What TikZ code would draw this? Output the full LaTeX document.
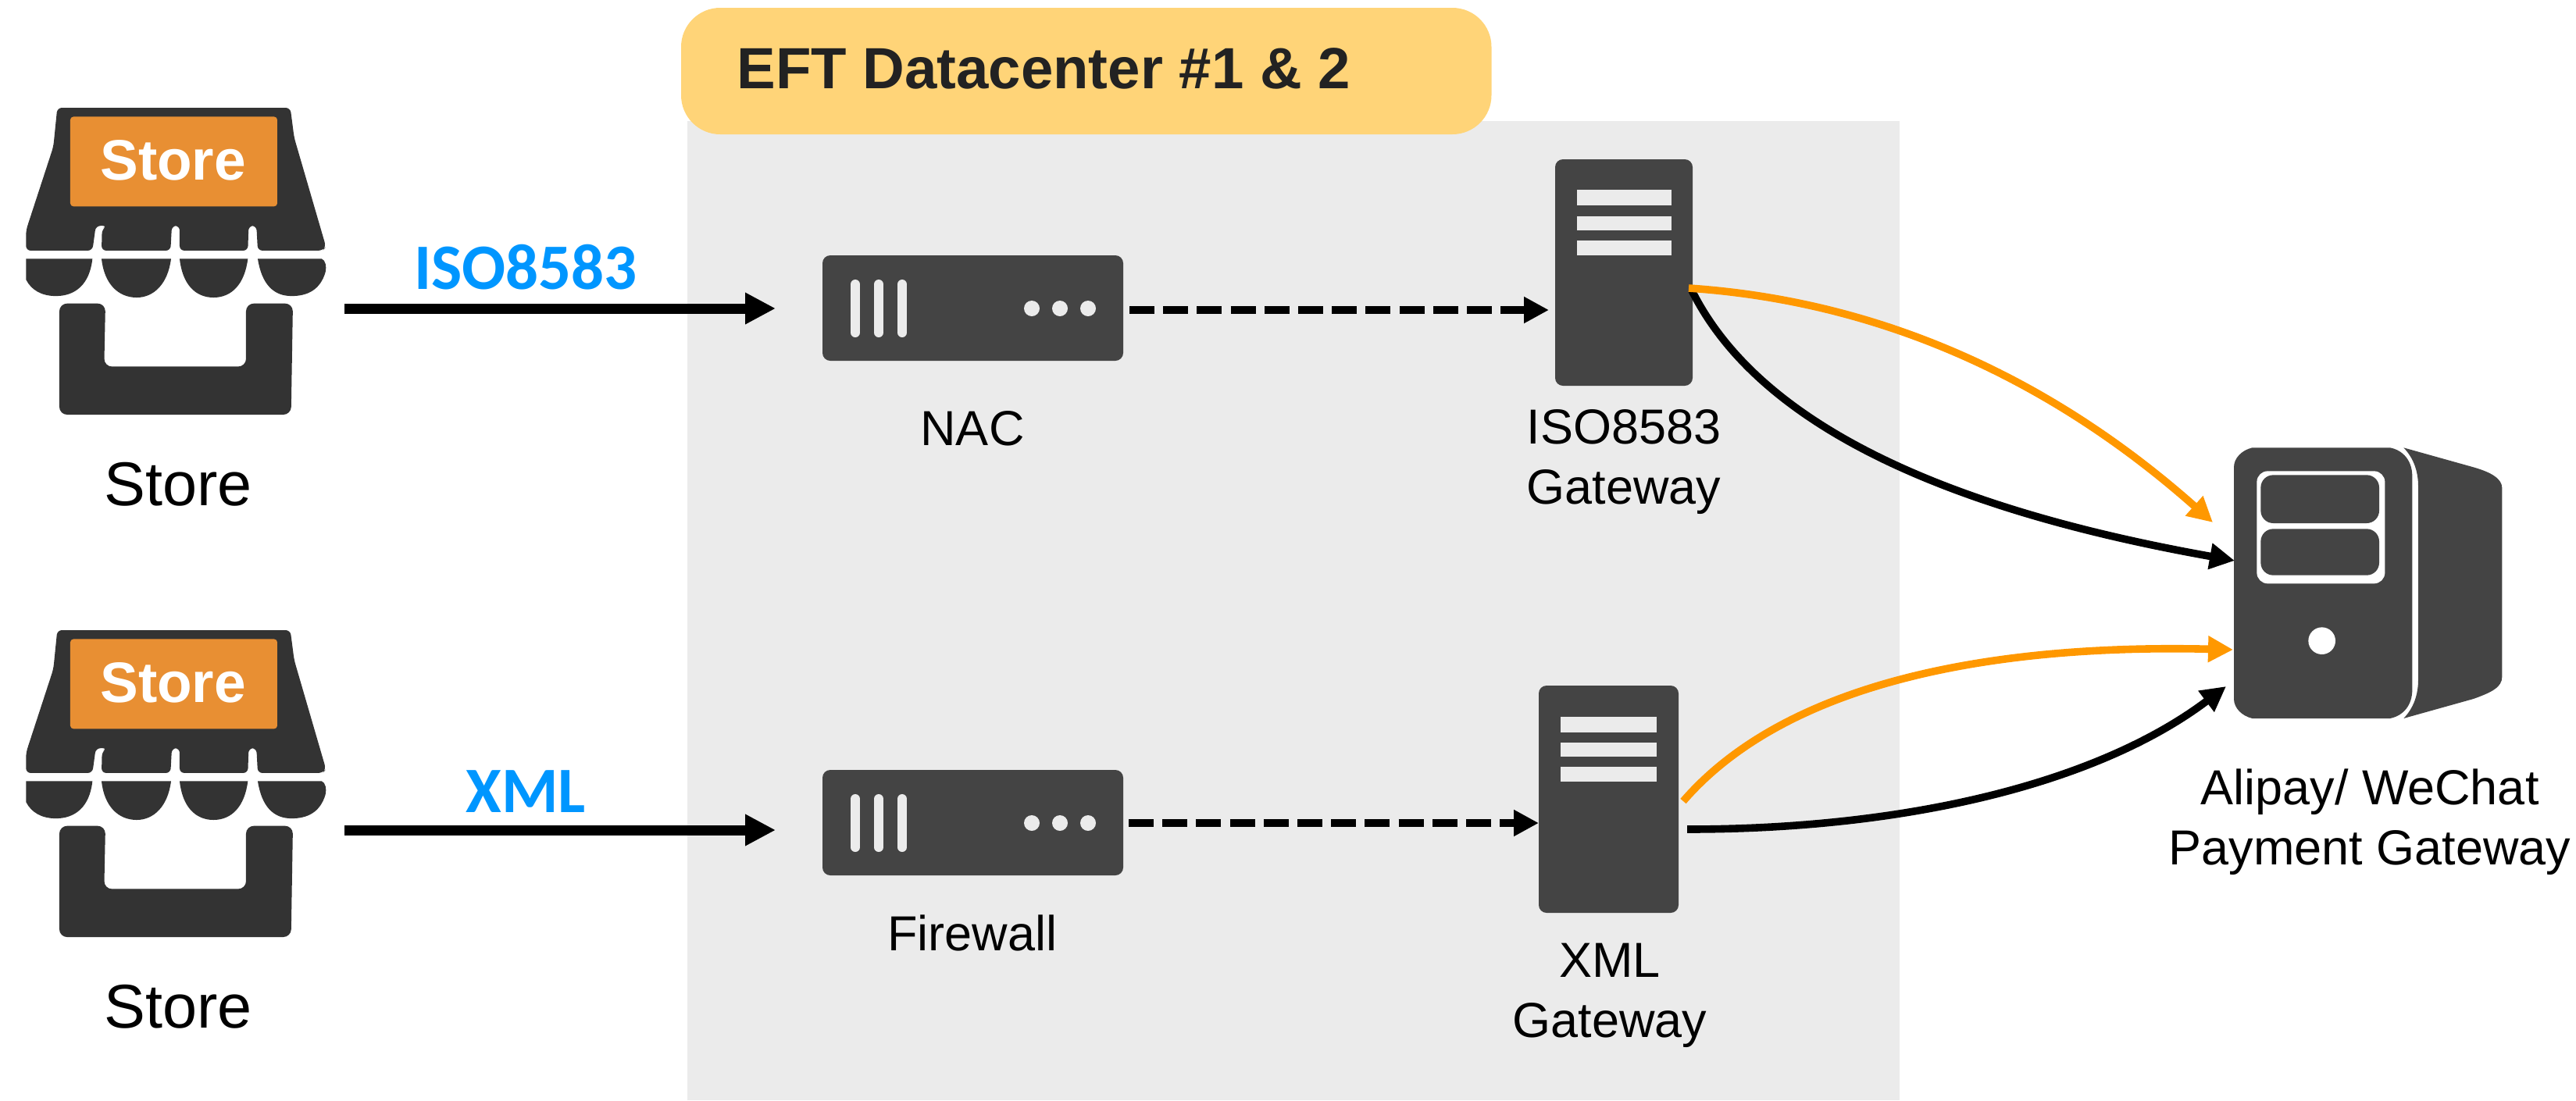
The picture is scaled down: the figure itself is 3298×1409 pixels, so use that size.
\documentclass[tikz,border=0pt]{standalone}
\usepackage{fontspec}
\setmainfont{Liberation Sans}
\newfontfamily\calfont{Carlito}
\usetikzlibrary{arrows.meta}
\definecolor{panelgray}{HTML}{EBEBEB}
\definecolor{pillyellow}{HTML}{FFD478}
\definecolor{icondark}{HTML}{444444}
\definecolor{storedark}{HTML}{333333}
\definecolor{signorange}{HTML}{E88F33}
\definecolor{linkorange}{HTML}{FF9800}
\definecolor{protoblue}{HTML}{0096FF}
\definecolor{titleink}{HTML}{222222}
\tikzset{
  x=0.5pt,y=-0.5pt,
  label text/.style={font=\fontsize{31.5}{38.5}\selectfont,align=center,inner sep=0pt},
  store text/.style={font=\fontsize{39.6}{46}\selectfont,inner sep=0pt},
  proto text/.style={font=\calfont\bfseries\fontsize{41.5}{50}\selectfont,text=protoblue,inner sep=0pt},
  appliance/.style={fill=icondark,rounded corners=5pt,inner sep=0pt,minimum width=192.5pt,minimum height=67.5pt},
  gatewaybox/.style={fill=icondark,rounded corners=5pt,inner sep=0pt},
  solidlink/.style={line width=6.5pt,-{Triangle[length=19.5pt,width=19pt]}},
  dashlink/.style={line width=5.35pt,dash pattern=on 16pt off 5.6pt,-{Triangle[length=16pt,width=16pt]}},
  curvelink/.style={line width=4.8pt,-{Triangle[length=16pt,width=16pt]}},
  inset/.style={fill=panelgray}
}
\newcommand{\storeicon}[2]{%
  \begin{scope}[shift={(0,#2)},xscale=0.33333,yscale=0.3827]
    \fill[storedark,rounded corners=3pt] (220,0) -- (1115,0) -- (1130,100) -- (1252,465) -- (1240,478) -- (990,478) -- (985,395) -- (955,395) -- (952,478) -- (690,478) -- (690,395) -- (660,395) -- (655,478) -- (390,478) -- (392,405) -- (412,395) -- (368,395) -- (355,478) -- (100,478) -- (100,410) -- (205,130) -- cycle;
    \fill[signorange,rounded corners=2pt] (270,30) rectangle (1065,330);
    \fill[storedark] (100,505) -- (355,505) .. controls (345,590) and (290,630) .. (215,630) .. controls (160,630) and (120,610) .. (100,575) -- cycle;
    \fill[storedark] (390,505) -- (657,505) .. controls (645,590) and (590,635) .. (525,635) .. controls (455,635) and (400,590) .. (390,505) -- cycle;
    \fill[storedark] (690,505) -- (952,505) .. controls (940,590) and (890,635) .. (820,635) .. controls (750,635) and (700,590) .. (690,505) -- cycle;
    \fill[storedark] (990,505) -- (1235,505) .. controls (1250,510) and (1255,530) .. (1250,550) .. controls (1230,610) and (1180,630) .. (1120,630) .. controls (1050,630) and (1005,590) .. (990,505) -- cycle;
    \fill[storedark,rounded corners=5pt] (228,655) -- (405,655) -- (400,866) -- (945,866) -- (945,655) -- (1125,655) -- (1118,1027) -- (228,1027) -- cycle;
    \node[font=\bfseries\fontsize{36.5}{40}\selectfont,text=white,inner sep=0pt] at (665,175) {Store};
  \end{scope}%
}
\newcommand{\appliancemarks}[1]{%
  \foreach \bx in {1095,1125,1155}
    \draw[panelgray,line width=6pt,line cap=round] (\bx,#1-31) -- (\bx,#1+31);
  \foreach \dx in {1321,1357,1393}
    \fill[panelgray] (\dx,#1) circle[radius=10];
}
\begin{document}
\begin{tikzpicture}
\useasboundingbox (0,0) rectangle (3298,1409);
% datacenter panel and title
\fill[panelgray] (880,155) rectangle (2432,1409);
\node[fill=pillyellow,rounded corners=25pt,minimum width=518.75pt,minimum height=81pt,inner sep=0pt] (pill) at (1390.75,91) {};
\node[font=\bfseries\fontsize{37.2}{44}\selectfont,text=titleink,anchor=base west,inner sep=0pt] (title) at (943,113) {EFT Datacenter \#1 \& 2};
% stores
\storeicon{storeA}{138}
\storeicon{storeB}{807}
\node[store text,anchor=base] (storeAlabel) at (228,647) {Store};
\node[store text,anchor=base] (storeBlabel) at (228,1316) {Store};
\coordinate (storeAout) at (441,395);
\coordinate (storeBout) at (441,1063);
\coordinate (nacin) at (993,395);
\coordinate (fwin) at (993,1063);
\node[proto text,anchor=base] (isolabel) at (673,370) {ISO8583};
\node[proto text,anchor=base] (xmllabel) at (673,1040) {XML};
% appliances
\node[appliance] (nac) at (1245.5,394.5) {};
\appliancemarks{395}
\node[appliance] (fw) at (1245.5,1053.5) {};
\appliancemarks{1054}
\node[label text,anchor=base] (naclabel) at (1245,570) {NAC};
\node[label text,anchor=base] (fwlabel) at (1245,1217) {Firewall};
% gateways
\node[gatewaybox,minimum width=88pt,minimum height=145pt] (isogw) at (2079,349) {};
\fill[inset] (2019,243) rectangle (2140,263);
\fill[inset] (2019,277) rectangle (2140,295);
\fill[inset] (2019,308) rectangle (2140,327);
\node[gatewaybox,minimum width=89.5pt,minimum height=145.5pt] (xmlgw) at (2059.5,1023.5) {};
\fill[inset] (1998,918) rectangle (2121,938);
\fill[inset] (1998,951) rectangle (2121,969);
\fill[inset] (1998,982) rectangle (2121,1001);
\node[label text,anchor=base] (isogwlabel) at (2079,645) {ISO8583\\Gateway};
\node[label text,anchor=base] (xmlgwlabel) at (2061,1328) {XML\\Gateway};
% payment server
\begin{scope}[shift={(2800,540)},scale=0.33333]
  \fill[icondark] (832,100) .. controls (870,140) and (888,190) .. (888,250) -- (888,990) .. controls (888,1050) and (870,1100) .. (832,1140) -- (1100,1065) .. controls (1170,1040) and (1210,1020) .. (1210,980) -- (1210,255) .. controls (1210,220) and (1170,195) .. (1100,175) -- cycle;
  \fill[icondark] (250,100) -- (780,100) .. controls (830,110) and (865,150) .. (865,210) -- (865,1030) .. controls (865,1090) and (830,1130) .. (780,1140) -- (250,1140) .. controls (210,1130) and (180,1100) .. (180,1065) -- (180,175) .. controls (180,140) and (210,110) .. (250,100) -- cycle;
  \fill[white,rounded corners=7pt] (268,190) rectangle (760,622);
  \fill[icondark,rounded corners=8pt] (283,205) rectangle (738,390);
  \fill[icondark,rounded corners=8pt] (283,412) rectangle (738,590);
  \fill[white] (518,842) circle[radius=52];
\end{scope}
\node[label text,anchor=base] (paylabel) at (3034,1107) {Alipay/ WeChat\\Payment Gateway};
% connector ends
\coordinate (nacout) at (1446,397);
\coordinate (isoin) at (1983,397);
\coordinate (fwout) at (1445,1054);
\coordinate (xmlin) at (1970,1054);
\coordinate (isoA) at (2162,369);
\coordinate (isoB) at (2166,372);
\coordinate (xmlA) at (2155,1026);
\coordinate (xmlB) at (2160,1062);
\coordinate (payA) at (2833,669);
\coordinate (payB) at (2861,718);
\coordinate (payC) at (2859,832);
\coordinate (payD) at (2850,879);
% connectors
\draw[solidlink] (storeAout) -- (nacin);
\draw[solidlink] (storeBout) -- (fwin);
\draw[dashlink] (nacout) -- (isoin);
\draw[dashlink] (fwout) -- (xmlin);
\draw[curvelink,black] (isoB) .. controls (2250,540) and (2480,650) .. (payB);
\draw[curvelink,linkorange] (isoA) .. controls (2400,385) and (2620,480) .. (payA);
\draw[curvelink,linkorange] (xmlA) .. controls (2290,870) and (2560,825) .. (payC);
\draw[curvelink,black] (xmlB) .. controls (2450,1062) and (2690,1000) .. (payD);
\end{tikzpicture}
\end{document}
